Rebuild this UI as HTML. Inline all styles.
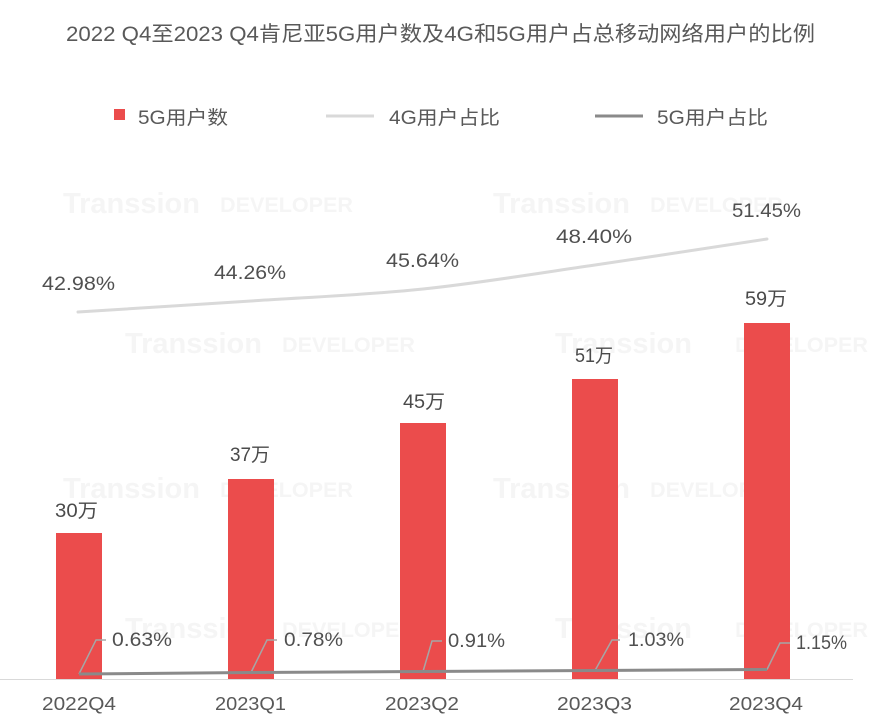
<!DOCTYPE html>
<html>
<head>
<meta charset="utf-8">
<style>
  html,body{margin:0;padding:0;background:#fff;}
  svg{display:block;}
  text{font-family:"Liberation Sans","Noto Sans CJK SC",sans-serif;}
</style>
</head>
<body>
<svg width="886" height="727" viewBox="0 0 886 727" xmlns="http://www.w3.org/2000/svg">
  <rect x="0" y="0" width="886" height="727" fill="#ffffff"/>

  <!-- watermarks -->
  <g fill="#f5f5f5" font-weight="bold">
    <text x="63" y="213" font-size="29" textLength="137" lengthAdjust="spacingAndGlyphs">Transsion</text>
    <text x="220" y="212" font-size="21" textLength="133" lengthAdjust="spacingAndGlyphs">DEVELOPER</text>
    <text x="493" y="213" font-size="29" textLength="137" lengthAdjust="spacingAndGlyphs">Transsion</text>
    <text x="650" y="212" font-size="21" textLength="133" lengthAdjust="spacingAndGlyphs">DEVELOPER</text>

    <text x="125" y="353" font-size="29" textLength="137" lengthAdjust="spacingAndGlyphs">Transsion</text>
    <text x="282" y="352" font-size="21" textLength="133" lengthAdjust="spacingAndGlyphs">DEVELOPER</text>
    <text x="555" y="353" font-size="29" textLength="137" lengthAdjust="spacingAndGlyphs">Transsion</text>
    <text x="735" y="352" font-size="21" textLength="133" lengthAdjust="spacingAndGlyphs">DEVELOPER</text>

    <text x="63" y="498" font-size="29" textLength="137" lengthAdjust="spacingAndGlyphs">Transsion</text>
    <text x="220" y="497" font-size="21" textLength="133" lengthAdjust="spacingAndGlyphs">DEVELOPER</text>
    <text x="493" y="498" font-size="29" textLength="137" lengthAdjust="spacingAndGlyphs">Transsion</text>
    <text x="650" y="497" font-size="21" textLength="133" lengthAdjust="spacingAndGlyphs">DEVELOPER</text>

    <text x="125" y="638" font-size="29" textLength="137" lengthAdjust="spacingAndGlyphs">Transsion</text>
    <text x="282" y="637" font-size="21" textLength="133" lengthAdjust="spacingAndGlyphs">DEVELOPER</text>
    <text x="555" y="638" font-size="29" textLength="137" lengthAdjust="spacingAndGlyphs">Transsion</text>
    <text x="735" y="637" font-size="21" textLength="133" lengthAdjust="spacingAndGlyphs">DEVELOPER</text>
  </g>

  <!-- title -->
  <text x="66" y="41" font-size="21" fill="#595959" textLength="749" lengthAdjust="spacingAndGlyphs">2022 Q4至2023 Q4肯尼亚5G用户数及4G和5G用户占总移动网络用户的比例</text>

  <!-- legend -->
  <rect x="114" y="109" width="11" height="11" fill="#eb4c4c"/>
  <text x="138" y="124" font-size="19" fill="#595959" textLength="90" lengthAdjust="spacingAndGlyphs">5G用户数</text>
  <line x1="326" y1="116" x2="374" y2="116" stroke="#d9d9d9" stroke-width="3"/>
  <text x="389" y="124" font-size="19" fill="#595959" textLength="111" lengthAdjust="spacingAndGlyphs">4G用户占比</text>
  <line x1="595" y1="116" x2="643" y2="116" stroke="#8a8a8a" stroke-width="3"/>
  <text x="657" y="124" font-size="19" fill="#595959" textLength="111" lengthAdjust="spacingAndGlyphs">5G用户占比</text>

  <!-- axis line -->
  <line x1="0" y1="679.5" x2="853" y2="679.5" stroke="#d9d9d9" stroke-width="1"/>

  <!-- bars -->
  <g fill="#eb4c4c">
    <rect x="56" y="533" width="46" height="146"/>
    <rect x="228" y="479" width="46" height="200"/>
    <rect x="400" y="423" width="46" height="256"/>
    <rect x="572" y="379" width="46" height="300"/>
    <rect x="744" y="323" width="46" height="356"/>
  </g>

  <!-- bar labels -->
  <g font-size="19" fill="#4a4a4a">
    <text x="55" y="517" textLength="43" lengthAdjust="spacingAndGlyphs">30万</text>
    <text x="230" y="461" textLength="40" lengthAdjust="spacingAndGlyphs">37万</text>
    <text x="403" y="408" textLength="42" lengthAdjust="spacingAndGlyphs">45万</text>
    <text x="575" y="362" textLength="38" lengthAdjust="spacingAndGlyphs">51万</text>
    <text x="745" y="305" textLength="42" lengthAdjust="spacingAndGlyphs">59万</text>
  </g>

  <!-- 4G line -->
  <path d="M78,312 C106.8,310.2 193.5,304.8 251,301 C308.5,297.2 365.7,295 423,289 C480.3,283 537.7,273.3 595,265 C652.3,256.7 738.3,243.3 767,239"
        fill="none" stroke="#d9d9d9" stroke-width="3" stroke-linecap="round"/>

  <!-- 4G labels -->
  <g font-size="19" fill="#505050">
    <text x="42" y="290" textLength="73" lengthAdjust="spacingAndGlyphs">42.98%</text>
    <text x="214" y="279" textLength="72" lengthAdjust="spacingAndGlyphs">44.26%</text>
    <text x="386" y="267" textLength="73" lengthAdjust="spacingAndGlyphs">45.64%</text>
    <text x="556" y="243" textLength="76" lengthAdjust="spacingAndGlyphs">48.40%</text>
    <text x="732" y="217" textLength="69" lengthAdjust="spacingAndGlyphs">51.45%</text>
  </g>

  <!-- 5G leader lines -->
  <g fill="none" stroke="#a6a6a6" stroke-width="1.5">
    <polyline points="79,674 96,640 106,640"/>
    <polyline points="251,672.5 267,640 277,640"/>
    <polyline points="423,671.5 432,641 442,641"/>
    <polyline points="595,670.5 612,640 620,640"/>
    <polyline points="767,669.5 780,643 790,643"/>
  </g>

  <!-- 5G line -->
  <polyline points="79,674 251,672.5 423,671.5 595,670.5 767,669.5" fill="none" stroke="#8a8a8a" stroke-width="3" stroke-linejoin="round"/>

  <!-- 5G labels -->
  <g font-size="19" fill="#505050">
    <text x="112" y="646" textLength="60" lengthAdjust="spacingAndGlyphs">0.63%</text>
    <text x="284" y="646" textLength="59" lengthAdjust="spacingAndGlyphs">0.78%</text>
    <text x="448" y="647" textLength="57" lengthAdjust="spacingAndGlyphs">0.91%</text>
    <text x="628" y="646" textLength="56" lengthAdjust="spacingAndGlyphs">1.03%</text>
    <text x="796" y="649" textLength="51" lengthAdjust="spacingAndGlyphs">1.15%</text>
  </g>

  <!-- x axis labels -->
  <g font-size="18" fill="#595959">
    <text x="42" y="710" textLength="74" lengthAdjust="spacingAndGlyphs">2022Q4</text>
    <text x="215" y="710" textLength="71" lengthAdjust="spacingAndGlyphs">2023Q1</text>
    <text x="385" y="710" textLength="74" lengthAdjust="spacingAndGlyphs">2023Q2</text>
    <text x="557" y="710" textLength="75" lengthAdjust="spacingAndGlyphs">2023Q3</text>
    <text x="729" y="710" textLength="74" lengthAdjust="spacingAndGlyphs">2023Q4</text>
  </g>
</svg>
</body>
</html>
